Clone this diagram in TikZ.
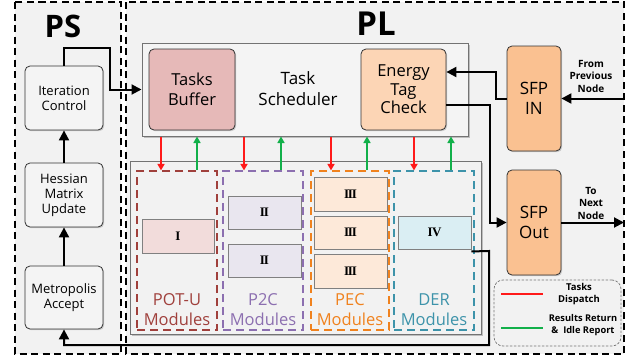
\documentclass[tikz,border=0pt]{standalone}
\usepackage{fontspec}
\setmainfont{Open Sans}
\newfontfamily\romfont{Liberation Serif}
\newcommand{\rmI}{I}
\newcommand{\rmII}{I\kern-1.1ptI}
\newcommand{\rmIII}{I\kern-1.1ptI\kern-1.1ptI}
\newcommand{\rmIV}{I\kern-0.6ptV}
\usetikzlibrary{arrows.meta,shadows,calc}
\definecolor{bgc}{HTML}{F2F2F2}
\definecolor{boxc}{HTML}{F4F4F4}
\definecolor{tbc}{HTML}{E6B9B8}
\definecolor{etcc}{HTML}{FCD5B5}
\definecolor{sfpc}{HTML}{FAC191}
\definecolor{ic}{HTML}{F2DCDB}
\definecolor{iic}{HTML}{E9E6EF}
\definecolor{iiic}{HTML}{FDE9D9}
\definecolor{ivc}{HTML}{DAEEF3}
\definecolor{potuc}{HTML}{A0403C}
\definecolor{p2cc}{HTML}{8C6FB0}
\definecolor{pecc}{HTML}{F0821E}
\definecolor{derc}{HTML}{3D93AA}
\definecolor{redc}{HTML}{FF1A1A}
\definecolor{greenc}{HTML}{12B04A}
\tikzset{
  region/.style={draw=black, line width=1.4pt, dash pattern=on 7pt off 4.5pt, fill=bgc},
  rbox/.style={draw=black!80, line width=0.8pt, rounded corners=5pt, fill=#1, align=center, inner sep=0pt,
    drop shadow={shadow xshift=1.2pt, shadow yshift=-1.2pt, opacity=0.35}},
  sbox/.style={draw=black!55, line width=1pt, fill=#1, inner sep=0pt,
    drop shadow={shadow xshift=1.8pt, shadow yshift=-1.8pt, opacity=0.45}},
  modbox/.style={draw=#1, line width=1.2pt, dash pattern=on 8pt off 5pt, inner sep=0pt},
  numbox/.style={draw=black!50, line width=0.9pt, fill=#1, inner sep=0pt, minimum width=73pt, minimum height=34pt,
    font=\romfont\bfseries\fontsize{13}{14}\selectfont},
  arr/.style={line width=2pt, -{Triangle[length=10pt,width=10pt]}},
  darr/.style={line width=1.6pt, draw=redc, -{Triangle[length=6.5pt,width=7pt]}},
  uarr/.style={line width=1.6pt, draw=greenc, -{Triangle[length=6.5pt,width=7pt]}},
  sidetxt/.style={font=\bfseries\fontsize{10}{12.5}\selectfont, align=center},
  modtxt/.style={text=#1, font=\fontsize{16.5}{20}\selectfont, align=center},
}
\begin{document}
\begin{tikzpicture}[x=1pt,y=-1pt]
\useasboundingbox (0,0) rectangle (640,359);
\fill[white] (0,0) rectangle (640,359);
% regions
\draw[region] (15,2) rectangle (121,354);
\draw[region] (126,2) rectangle (624,354);
\node[font=\bfseries\fontsize{31}{31}\selectfont] (ps) at (63,26) {PS};
\node[font=\bfseries\fontsize{33}{33}\selectfont] (pl) at (376,24) {PL};
% PS boxes
\node[rbox=boxc, minimum width=78pt, minimum height=64pt, font=\fontsize{13}{15}\selectfont] (itc) at (64,98) {Iteration\\Control};
\node[rbox=boxc, minimum width=78pt, minimum height=64pt, font=\fontsize{13}{15}\selectfont] (hes) at (64,195) {Hessian\\Matrix\\Update};
\node[rbox=boxc, minimum width=78pt, minimum height=63pt, font=\fontsize{13}{15}\selectfont] (met) at (64,297.5) {Metropolis\\Accept};
% Task scheduler
\node[sbox=boxc, minimum width=326pt, minimum height=93pt] (ts) at (305,89.5) {};
\node[font=\fontsize{17}{21}\selectfont, align=center] (tst) at (298,89) {Task\\Scheduler};
\node[rbox=tbc, minimum width=86pt, minimum height=81pt, font=\fontsize{16.5}{19.5}\selectfont] (tb) at (192,89.5) {Tasks\\Buffer};
\node[rbox=etcc, minimum width=85pt, minimum height=81pt, font=\fontsize{16.5}{18.5}\selectfont] (etc) at (403.5,89.5) {Energy\\Tag\\Check};
% SFP
\node[rbox=sfpc, minimum width=54pt, minimum height=105pt, font=\fontsize{17}{20}\selectfont] (sfpin) at (534,98.5) {SFP\\IN};
\node[rbox=sfpc, minimum width=54pt, minimum height=105pt, font=\fontsize{17}{20}\selectfont] (sfpout) at (534,222.5) {SFP\\Out};
\node[sidetxt] (fromt) at (591,76) {From\\Previous\\Node};
\node[sidetxt] (tot) at (591,203) {To\\Next\\Node};
% module container
\node[sbox=bgc, minimum width=351pt, minimum height=173pt] (mc) at (305.5,247.5) {};
\node[modbox=potuc, minimum width=80pt, minimum height=159pt] (potu) at (177,250.5) {};
\node[modbox=p2cc, minimum width=80pt, minimum height=159pt] (p2c) at (263,250.5) {};
\node[modbox=pecc, minimum width=78pt, minimum height=159pt] (pec) at (350,250.5) {};
\node[modbox=derc, minimum width=80pt, minimum height=159pt] (der) at (434,250.5) {};
\node[modtxt=potuc] (potul) at (177,310) {POT-U\\Modules};
\node[modtxt=p2cc] (p2cl) at (263,310) {P2C\\Modules};
\node[modtxt=pecc] (pecl) at (350,310) {PEC\\Modules};
\node[modtxt=derc] (derl) at (434,310) {DER\\Modules};
\node[numbox=ic, minimum width=72pt] (m1) at (178,236) {\rmI};
\node[numbox=iic, minimum height=33pt] (m2a) at (264.5,212.5) {\rmII};
\node[numbox=iic, minimum height=33pt] (m2b) at (264.5,260.5) {\rmII};
\node[numbox=iiic] (m3a) at (350.5,194) {\rmIII};
\node[numbox=iiic, minimum height=33pt] (m3b) at (350.5,232.5) {\rmIII};
\node[numbox=iiic] (m3c) at (350.5,271) {\rmIII};
\node[numbox=ivc, minimum height=33pt] (m4) at (434.5,232.5) {\rmIV};
% legend
\node[draw=black!55, line width=0.7pt, dash pattern=on 2.5pt off 1.5pt, rounded corners=9pt, minimum width=127pt, minimum height=66pt, inner sep=0pt] (leg) at (557.5,313) {};
\coordinate (lr1) at (501,294);
\coordinate (lr2) at (543,294);
\coordinate (lg1) at (501,328);
\coordinate (lg2) at (543,328);
\draw[line width=2pt, redc] (lr1) -- (lr2);
\draw[line width=2pt, greenc] (lg1) -- (lg2);
\node[font=\bfseries\fontsize{9.5}{11.5}\selectfont, align=center] (legt1) at (579,294) {Tasks\\Dispatch};
\node[font=\bfseries\fontsize{9.3}{11.5}\selectfont, align=center] (legt2) at (583,325) {Results Return\\\&~~Idle Report};
% PS arrows
\draw[arr] (met) -- (hes);
\draw[arr] (hes) -- (itc);
\draw[arr] (itc.north) |- (110,48) |- (ts.west);
% dispatch / report arrows
\foreach \x in {161,244,331,414}{\draw[darr] (ts.south -| \x,0) -- (potu.north -| \x,0);}
\foreach \x in {197,281,367,451}{\draw[uarr] (potu.north -| \x,0) -- (ts.south -| \x,0);}
% SFP connections
\coordinate (prev) at (624,98.5);
\coordinate (next) at (624,222.5);
\draw[arr] (prev) -- (sfpin.east);
\draw[arr] (sfpout.east) -- (next);
\draw[arr] (sfpin.west) -| (496,72) -- (etc.east |- 0,72);
\draw[arr] (etc.east |- 0,105) -| (490,222.5) -- (sfpout.west);
% return path
\draw[arr] (m4.south east) ++(0,2) -- (489,251) -- (489,345) -| (met.south);
\end{tikzpicture}
\end{document}
